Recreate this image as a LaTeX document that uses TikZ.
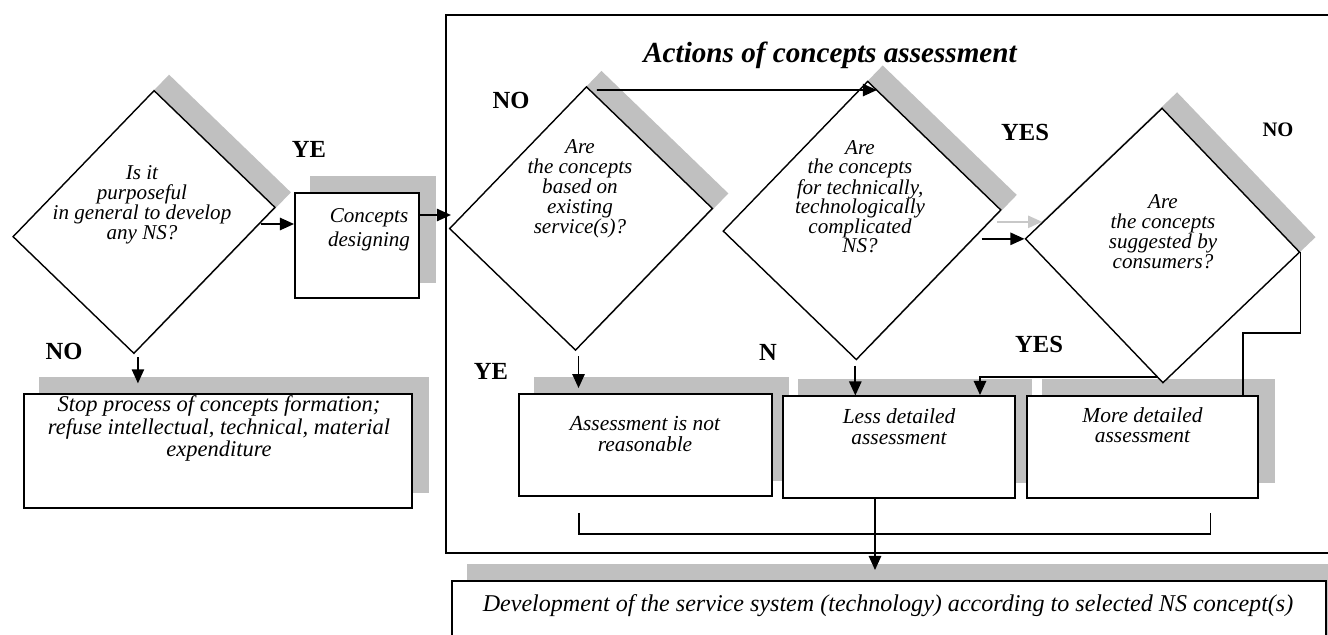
\documentclass[tikz,border=0pt]{standalone}
\usepackage{fontspec}
\setmainfont{Liberation Serif}
\usepackage{tikz}
\usetikzlibrary{arrows.meta, backgrounds}
\definecolor{shadowgray}{HTML}{C0C0C0}
\definecolor{ghostgray}{HTML}{C8C8C8}

\begin{document}
\begin{tikzpicture}[
  x=0.02cm, y=-0.02cm,
  every node/.style={inner sep=0pt},
  query/.style={
    rectangle, draw, line width=0.8pt,
    fill=white,
  },
  actbox/.style={
    rectangle, draw, line width=1.1pt,
    fill=white,
  },
  qtext/.style={align=center, font=\itshape\fontsize{12}{11.4}\selectfont},
  btext/.style={align=center, font=\itshape\fontsize{12.2}{12}\selectfont},
  answer/.style={font=\bfseries\fontsize{14}{14}\selectfont},
  arrow/.style={-{Triangle[length=8pt,width=7pt]}, line width=1pt},
  link/.style={line width=1pt},
]
\useasboundingbox (0,0) rectangle (1328,635);

% frame of the assessment actions
\draw[link] (1340,15) -- (446,15) -- (446,553) -- (1340,553);
\node[font=\bfseries\itshape\fontsize{16.6}{18}\selectfont] (acttitle) at (830,55) {Actions of concepts assessment};

% questions
\node[query, minimum width=3.36cm, minimum height=4.06cm, rotate=-44]   (q1) at (144,222)      {};
\node[query, minimum width=3.5cm,  minimum height=3.94cm, rotate=-44]   (q2) at (581,218.5)    {};
\node[query, minimum width=3.7cm,  minimum height=4.16cm, rotate=-44]   (q3) at (862,220.5)    {};
\node[query, minimum width=3.98cm, minimum height=3.78cm, rotate=-46.3] (q4) at (1162.5,245.5) {};

\node[qtext] (q1txt) at (142,205)  {Is it\\purposeful\\in general to develop\\any NS?};
\node[qtext] (q2txt) at (580,189)  {Are\\the concepts\\based on\\existing\\service(s)?};
\node[qtext, font=\itshape\fontsize{12}{11}\selectfont] (q3txt) at (860,196.5) {Are\\the concepts\\for technically,\\technologically\\complicated\\NS?};
\node[qtext] (q4txt) at (1163,232) {Are\\the concepts\\suggested by\\consumers?};

% actions
\node[actbox, minimum width=2.48cm,  minimum height=2.1cm]  (design) at (357,245.5)  {};
\node[actbox, minimum width=7.76cm,  minimum height=2.28cm] (stop)   at (218,451)    {};
\node[actbox, minimum width=5.06cm,  minimum height=2.04cm] (assess) at (645.5,445)  {};
\node[actbox, minimum width=4.64cm,  minimum height=2.04cm] (less)   at (899,447)    {};
\node[actbox, minimum width=4.62cm,  minimum height=2.04cm] (more)   at (1142.5,447) {};
\node[actbox, minimum width=17.48cm, minimum height=1.56cm] (dev)    at (889,620)    {};

\node[btext, font=\itshape\fontsize{12}{13.7}\selectfont] (designtxt) at (369,230) {Concepts\\designing};
\node[btext, font=\itshape\fontsize{12.8}{11.1}\selectfont] (stoptxt) at (219,428.5) {Stop process of concepts formation;\\refuse intellectual, technical, material\\expenditure};
\node[btext, font=\itshape\fontsize{12.2}{12.5}\selectfont] (assesstxt) at (645,434) {Assessment is not\\reasonable};
\node[btext] (lesstxt) at (899,427) {Less detailed\\assessment};
\node[btext, font=\itshape\fontsize{12.2}{11.6}\selectfont] (moretxt) at (1142.5,425) {More detailed\\assessment};
\node[btext, font=\itshape\fontsize{13.7}{14}\selectfont] (devtxt) at (888,606) {Development of the service system (technology) according to selected NS concept(s)};

% shadows
\begin{scope}[on background layer]
  \foreach \n/\d in {q1/15,q2/15,q3/15,q4/15,design/16,stop/16,assess/16,less/16,more/16,dev/16}
    \fill[shadowgray] ([shift={(\d,-\d)}]\n.north west) -- ([shift={(\d,-\d)}]\n.north east)
      -- ([shift={(\d,-\d)}]\n.south east) -- ([shift={(\d,-\d)}]\n.south west) -- cycle;
\end{scope}

% answers
\node[answer] (yes1) at (309,149)  {YE};
\node[answer] (no1)  at (64,351)   {NO};
\node[answer] (no2)  at (511,100)  {NO};
\node[answer] (yes2) at (491,371)  {YE};
\node[answer] (no3)  at (768,352)  {N};
\node[answer] (yes3) at (1025,132) {YES};
\node[answer, font=\bfseries\fontsize{11.7}{12}\selectfont] (no4) at (1278,130) {NO};
\node[answer] (yes4) at (1039,344) {YES};

% connectors
\draw[arrow] ([shift={(-33,-21.5)}]design.west) -- ([shift={(0,-21.5)}]design.west);
\draw[arrow] ([shift={(0,-30.5)}]design.east) -- ([shift={(31,-30.5)}]design.east);
\draw[arrow] ([shift={(4,3)}]q1.south east) -- ([shift={(4,29)}]q1.south east);
\draw[arrow] ([shift={(10.4,4.1)}]q2.north west) -- ([shift={(9.2,9.6)}]q3.north west);
\draw[arrow] ([shift={(3,5)}]q2.south east) -- ([shift={(3,37)}]q2.south east);
\draw[arrow] ([shift={(-1,5)}]q3.south east) -- ([shift={(-1,35)}]q3.south east);
\draw[arrow] ([xshift=-0.86cm]q4.south west) -- (q4.south west);
\draw[arrow, ghostgray] ([shift={(-27.4,-17)}]q4.south west) -- ([shift={(17.6,-17)}]q4.south west);
\draw[arrow] ([shift={(-5,-7)}]q4.south east) -| ([shift={(81,0)}]less.north);
\draw[link] (q4.north east) |- ([shift={(100.5,-62)}]more.north) -- ([shift={(100.5,0)}]more.north);

% gathering of the results
\draw[line width=0.8pt] ([shift={(-66.5,16)}]assess.south) |- ([shift={(68,35)}]more.south) -- ([shift={(68,14)}]more.south);
\draw[arrow] ([shift={(-24,0)}]less.south) -- ([shift={(-14,-10)}]dev.north);

\end{tikzpicture}
\end{document}
